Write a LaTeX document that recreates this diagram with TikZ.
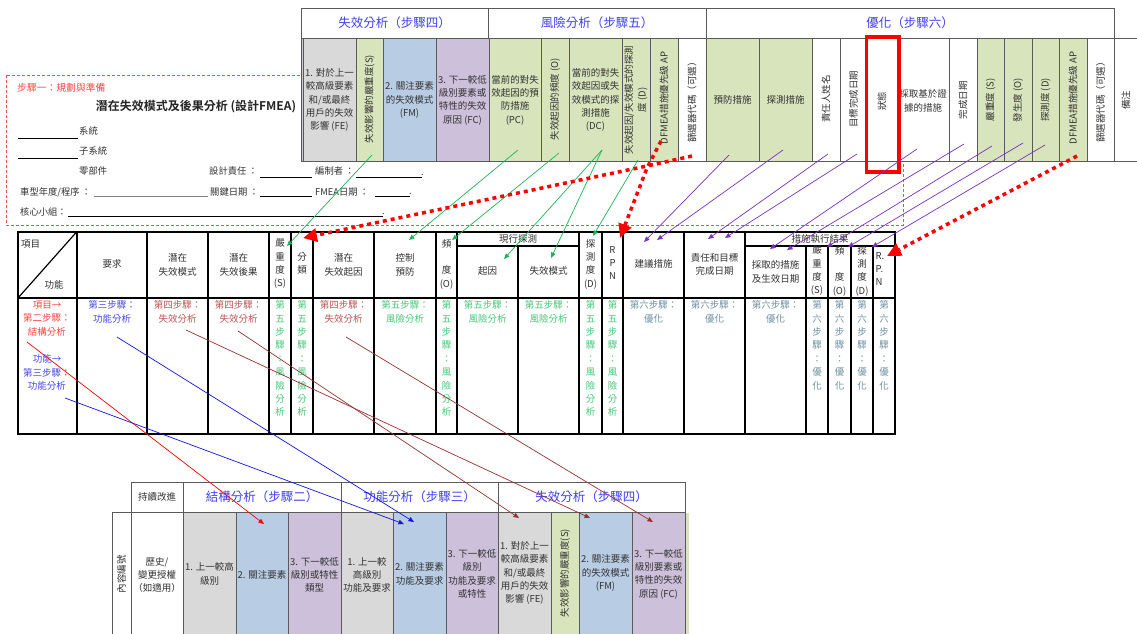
\documentclass[tikz,border=0pt]{standalone}
\usepackage{fontspec}
\setmainfont{Noto Sans CJK TC}[BoldFont={Noto Sans CJK TC Bold}]
\usetikzlibrary{arrows.meta}
\definecolor{hblue}{RGB}{64,64,240}
\definecolor{txt}{RGB}{50,50,50}
\definecolor{tgrid}{RGB}{90,90,90}
\definecolor{cgray}{RGB}{217,217,217}
\definecolor{cblue}{RGB}{184,204,228}
\definecolor{cpurple}{RGB}{204,192,218}
\definecolor{cgreen}{RGB}{216,228,188}
\definecolor{tgreen}{RGB}{70,200,120}
\definecolor{tbrown}{RGB}{185,85,85}
\definecolor{tteal}{RGB}{110,145,160}
\definecolor{tblue}{RGB}{70,70,235}
\definecolor{tred}{RGB}{255,70,70}
\definecolor{lgreen}{RGB}{30,180,90}
\definecolor{lpurple}{RGB}{120,50,190}
\definecolor{lbrown}{RGB}{150,50,50}
\definecolor{lblue}{RGB}{20,20,220}
\definecolor{stepred}{RGB}{240,80,80}
\begin{document}
\begin{tikzpicture}[x=1pt,y=-1pt,
  every node/.style={inner sep=0pt, text=txt},
  b9/.style={font=\fontsize{9.5}{13.3}\selectfont, align=center},
  vs/.style={font=\fontsize{9.5}{13.4}\selectfont, align=center, anchor=north},
  hd/.style={font=\fontsize{12.5}{14}\selectfont, text=hblue},
  rot/.style={b9, rotate=90},
  lb/.style={font=\fontsize{9.3}{11}\selectfont, anchor=west},
  tl/.style={draw=tgrid, line width=0.8pt},
  ml/.style={draw=black, line width=1.2pt},
  ul/.style={draw=black, line width=0.8pt},
  conn/.style={line width=0.7pt, -{Triangle[length=5.5pt,width=4.5pt]}},
  rdot/.style={draw=red, line width=3.5pt, dash pattern=on 4pt off 4pt, -{Triangle[length=14pt,width=13pt]}}
]
\useasboundingbox (0,0) rectangle (1137,634);
\fill[white] (0,0) rectangle (1137,634);

% ---------- step 1 dashed box ----------
\draw[stepred, line width=0.8pt, dash pattern=on 3pt off 2pt] (6,75) rectangle (903,225);
\node[lb, text=tred, font=\fontsize{9.8}{11}\selectfont] (s1) at (17,88) {步驟一：規劃與準備};
\node[font=\fontsize{12}{13}\bfseries, text=black!85] (title) at (196,107) {潛在失效模式及後果分析 (設計FMEA)};
\node[lb] (sys) at (79,131) {系統};
\coordinate (sysa) at (18,138); \coordinate (sysb) at (78,138);
\draw[ul] (sysa) -- (sysb);
\node[lb] (subsys) at (79,151) {子系統};
\coordinate (suba) at (18,158); \coordinate (subb) at (78,158);
\draw[ul] (suba) -- (subb);
\node[lb] (part) at (79,171) {零部件};
\node[lb] (resp) at (209,171) {設計責任 ：};
\coordinate (respa) at (260,177); \coordinate (respb) at (312,177);
\draw[ul] (respa) -- (respb);
\node[lb] (prep) at (315,171) {編制者 ：};
\coordinate (prepa) at (356,177); \coordinate (prepb) at (422,177);
\draw[ul] (prepa) -- (prepb);
\node[lb] (prepdot) at (421,175) {.};
\node[lb] (model) at (20,192) {車型年度/程序 ：};
\coordinate (modela) at (94,196); \coordinate (modelb) at (208,196);
\draw[draw=gray, line width=0.8pt] (modela) -- (modelb);
\node[lb] (key) at (210,192) {關鍵日期 ：};
\coordinate (keya) at (260,196); \coordinate (keyb) at (312,196);
\draw[ul] (keya) -- (keyb);
\node[lb] (fdate) at (315,192) {FMEA日期 ：};
\coordinate (fdatea) at (375,196); \coordinate (fdateb) at (410,196);
\draw[ul] (fdatea) -- (fdateb);
\node[lb] (fdot) at (409,194) {.};
\node[lb] (team) at (20,212) {核心小組：};
\coordinate (teama) at (68,216); \coordinate (teamb) at (383,216);
\draw[ul] (teama) -- (teamb);
\node[lb] (tdot) at (382,214) {.};

% ---------- top table ----------
\filldraw[fill=white, tl] (301,8) rectangle (488,38);
\filldraw[fill=white, tl] (488,8) rectangle (706,38);
\filldraw[fill=white, tl] (706,8) rectangle (1114,38);
\node[hd] (h4) at (394.5,23) {失效分析（步驟四）};
\node[hd] (h5) at (597,23) {風險分析（步驟五）};
\node[hd] (h6) at (910,23) {優化（步驟六）};
\foreach \a/\b/\c in {301/303/cpurple,303/356/cgray,356/383/cgreen,383/436/cblue,436/489/cpurple,489/541/cgreen,541/569/cgreen,569/622/cgreen,622/650/cgreen,650/678/cgreen,678/706/white,706/759/cgreen,759/812/cgreen,812/840/white,840/867/white,867/897/white,897/949/white,949/977/white,977/1004/cgreen,1004/1032/cgreen,1032/1059/cgreen,1059/1087/cgreen,1087/1114/white,1114/1139/white}
  {\filldraw[fill=\c, tl] (\a,38) rectangle (\b,161);}
\node[b9] (tfe) at (329.5,100) {1. 對於上一\\較高級要素\\和/或最終\\用戶的失效\\影響 (FE)};
\node[rot] (ts4) at (369.5,99) {失效影響的嚴重度(S)};
\node[b9] (tfm) at (409.5,100) {2. 關注要素\\的失效模式\\(FM)};
\node[b9] (tfc) at (462.5,100) {3. 下一較低\\級別要素或\\特性的失效\\原因 (FC)};
\node[b9] (tpc) at (515,100) {當前的對失\\效起因的預\\防措施\\(PC)};
\node[rot] (to5) at (555,99) {失效起因的頻度 (O)};
\node[b9] (tdc) at (595.5,100) {當前的對失\\效起因或失\\效模式的探\\測措施\\(DC)};
\node[rot] (td5) at (636,100) {失效起因/失效模式的探測\\度 (D)};
\node[rot] (tap5) at (664,98) {DFMEA措施優先級 AP};
\node[rot] (tfl5) at (692,100) {篩選器代碼（可選）};
\node[b9] (tpa) at (732.5,100) {預防措施};
\node[b9] (tda) at (785.5,100) {探測措施};
\node[rot] (trn) at (826,99) {責任人姓名};
\node[rot] (ttd) at (853.5,99) {目標完成日期};
\node[rot] (tst) at (882,101) {狀態};
\node[b9] (tae) at (923,101) {採取基於證\\據的措施};
\node[rot] (tcd) at (963,100) {完成日期};
\node[rot] (ts6) at (990.5,100) {嚴重度 (S)};
\node[rot] (to6) at (1018,100) {發生度 (O)};
\node[rot] (td6) at (1045.5,100) {探測度 (D)};
\node[rot] (tap6) at (1073,98) {DFMEA措施優先級 AP};
\node[rot] (tfl6) at (1100.5,100) {篩選器代碼（可選）};
\node[rot] (trm) at (1126,100) {備注};
\draw[red, line width=3.2pt] (866.5,37) rectangle (899,172);

% ---------- middle table ----------
\fill[white] (18,231.5) rectangle (895,434);
\foreach \x in {77,147,208,269,291,313,374,436,457,579,602,623,684,745}
  {\draw[ml] (\x,231.5) -- (\x,434);}
\foreach \x in {518,806,828,851,873}
  {\draw[ml] (\x,246) -- (\x,434);}
\draw[ml] (18,298) -- (895,298);
\draw[ml] (457,246) -- (579,246);
\draw[ml] (745,246) -- (895,246);
\draw[ml] (18,298) -- (77,231.5);
\draw[draw=black, line width=2pt] (18,231.5) rectangle (895,434);

\node[b9, anchor=west] (mh1) at (21,244) {項目};
\node[b9] (mh1b) at (54,285) {功能};
\node[b9] (mh2) at (112,264) {要求};
\node[b9] (mh3) at (177.5,265) {潛在\\失效模式};
\node[b9] (mh4) at (238.5,265) {潛在\\失效後果};
\node[vs] (mh5) at (280,239) {嚴\\重\\度\\(S)};
\node[vs] (mh6) at (302,252.5) {分\\類};
\node[b9] (mh7) at (343.5,265) {潛在\\失效起因};
\node[b9] (mh8) at (405,265) {控制\\預防};
\node[vs] (mh9) at (446.5,239) {頻\\\mbox{}\\度\\(O)};
\node[b9] (mh10) at (518,239) {現行探測};
\node[b9] (mh11) at (487.5,271) {起因};
\node[b9] (mh12) at (548.5,271) {失效模式};
\node[vs] (mh13) at (590.5,239) {探\\測\\度\\(D)};
\node[vs] (mh14) at (612.5,246) {R\\P\\N};
\node[b9] (mh15) at (653.5,264) {建議措施};
\node[b9] (mh16) at (714.5,264.5) {責任和目標\\完成日期};
\node[b9] (mh17) at (820,239) {措施執行結果};
\node[b9] (mh18) at (775.5,272) {採取的措施\\及生效日期};
\node[vs] (mh19) at (817,246) {嚴\\重\\度\\(S)};
\node[vs] (mh20) at (839.5,246) {頻\\\mbox{}\\度\\(O)};
\node[vs] (mh21) at (862,246) {探\\測\\度\\(D)};
\node[vs, align=left] (mh22) at (880,252) {R.\\P.\\N};

\node[vs, text=tred] (mb1) at (47,300.5) {項目→\\第二步驟：\\結構分析};
\node[vs, text=tblue] (mb1b) at (47,354.5) {功能→\\第三步驟：\\功能分析};
\node[vs, text=tblue] (mb2) at (112,300.5) {第三步驟：\\功能分析};
\node[vs, text=tbrown] (mb3) at (177.5,300.5) {第四步驟：\\失效分析};
\node[vs, text=tbrown] (mb4) at (238.5,300.5) {第四步驟：\\失效分析};
\node[vs, text=tgreen] (mb5) at (280,300.5) {第\\五\\步\\驟\\：\\風\\險\\分\\析};
\node[vs, text=tgreen] (mb6) at (302,300.5) {第\\五\\步\\驟\\：\\風\\險\\分\\析};
\node[vs, text=tbrown] (mb7) at (343.5,300.5) {第四步驟：\\失效分析};
\node[vs, text=tgreen] (mb8) at (405,300.5) {第五步驟：\\風險分析};
\node[vs, text=tgreen] (mb9) at (446.5,300.5) {第\\五\\步\\驟\\：\\風\\險\\分\\析};
\node[vs, text=tgreen] (mb10) at (487.5,300.5) {第五步驟：\\風險分析};
\node[vs, text=tgreen] (mb11) at (548.5,300.5) {第五步驟：\\風險分析};
\node[vs, text=tgreen] (mb12) at (590.5,300.5) {第\\五\\步\\驟\\：\\風\\險\\分\\析};
\node[vs, text=tgreen] (mb13) at (612.5,300.5) {第\\五\\步\\驟\\：\\風\\險\\分\\析};
\node[vs, text=tteal] (mb14) at (653.5,300.5) {第六步驟：\\優化};
\node[vs, text=tteal] (mb15) at (714.5,300.5) {第六步驟：\\優化};
\node[vs, text=tteal] (mb16) at (775.5,300.5) {第六步驟：\\優化};
\node[vs, text=tteal] (mb17) at (817,300.5) {第\\六\\步\\驟\\：\\優\\化};
\node[vs, text=tteal] (mb18) at (839.5,300.5) {第\\六\\步\\驟\\：\\優\\化};
\node[vs, text=tteal] (mb19) at (862,300.5) {第\\六\\步\\驟\\：\\優\\化};
\node[vs, text=tteal] (mb20) at (884,300.5) {第\\六\\步\\驟\\：\\優\\化};

% ---------- bottom table ----------
\foreach \a/\b/\c in {112/131/white,131/183/white,183/236/cgray,236/288/cblue,288/341/cpurple,341/393/cgray,393/446/cblue,446/498/cpurple,498/551/cgray,551/579/cgreen,579/632/cblue,632/685/cpurple}
  {\filldraw[fill=\c, tl] (\a,512) rectangle (\b,640);}
\fill[cgreen] (686,512.5) rectangle (689,640);
\filldraw[fill=white, tl] (131,482) rectangle (183,512);
\filldraw[fill=white, tl] (183,482) rectangle (341,512);
\filldraw[fill=white, tl] (341,482) rectangle (498,512);
\filldraw[fill=white, tl] (498,482) rectangle (685,512);
\node[b9] (bh1) at (157,497) {持續改進};
\node[hd] (bh2) at (262,497) {結構分析（步驟二）};
\node[hd] (bh3) at (419.5,497) {功能分析（步驟三）};
\node[hd] (bh4) at (591.5,497) {失效分析（步驟四）};
\node[rot] (bb0) at (121.5,574) {內容編號};
\node[b9] (bb1) at (157,575) {歷史/\\變更授權\\（如適用）};
\node[b9] (bb2) at (209.5,574) {1. 上一較高\\級別};
\node[b9] (bb3) at (262,575) {2. 關注要素};
\node[b9] (bb4) at (314.5,575) {3. 下一較低\\級別或特性\\類型};
\node[b9] (bb5) at (367,575) {1. 上一較\\高級別\\功能及要求};
\node[b9] (bb6) at (419.5,574) {2. 關注要素\\功能及要求};
\node[b9] (bb7) at (472,574) {3. 下一較低\\級別\\功能及要求\\或特性};
\node[b9] (bb8) at (524.5,573) {1. 對於上一\\較高級要素\\和/或最終\\用戶的失效\\影響 (FE)};
\node[rot] (bb9) at (565,573) {失效影響的嚴重度(S)};
\node[b9] (bb10) at (605.5,573) {2. 關注要素\\的失效模式\\(FM)};
\node[b9] (bb11) at (658.5,574) {3. 下一較低\\級別要素或\\特性的失效\\原因 (FC)};

% ---------- connectors: middle -> bottom ----------
\coordinate (cr1) at (27,342);   \coordinate (cr1e) at (264,524);
\coordinate (cb1) at (65,398);   \coordinate (cb1e) at (404,524);
\coordinate (cb2) at (117,337);  \coordinate (cb2e) at (414,522);
\coordinate (cw1) at (186,330);  \coordinate (cw1e) at (590,518);
\coordinate (cw2) at (238,331);  \coordinate (cw2e) at (519,518);
\coordinate (cw3) at (346,337);  \coordinate (cw3e) at (653,522);
\draw[conn, red] (cr1) -- (cr1e);
\draw[conn, lblue] (cb1) -- (cb1e);
\draw[conn, lblue] (cb2) -- (cb2e);
\draw[conn, lbrown] (cw1) -- (cw1e);
\draw[conn, lbrown] (cw2) -- (cw2e);
\draw[conn, lbrown] (cw3) -- (cw3e);

% ---------- connectors: top -> middle (green) ----------
\coordinate (g1) at (372,155); \coordinate (g1e) at (287,246);
\coordinate (g2) at (518,150); \coordinate (g2e) at (409,240);
\coordinate (g3) at (559,153); \coordinate (g3e) at (452,240);
\coordinate (g4) at (602,150); \coordinate (g4e) at (504,259);
\coordinate (g5e) at (551,258);
\coordinate (g6) at (638,160); \coordinate (g6e) at (593,236);
\draw[conn, lgreen] (g1) -- (g1e);
\draw[conn, lgreen] (g2) -- (g2e);
\draw[conn, lgreen] (g3) -- (g3e);
\draw[conn, lgreen] (g4) -- (g4e);
\draw[conn, lgreen] (g4) -- (g5e);
\draw[conn, lgreen] (g6) -- (g6e);

% ---------- connectors: top -> middle (purple) ----------
\coordinate (p1) at (729,155);  \coordinate (p1e) at (644,242);
\coordinate (p2) at (783,150);  \coordinate (p2e) at (657,240);
\coordinate (p3) at (828,154);  \coordinate (p3e) at (708,239);
\coordinate (p4) at (857,154);  \coordinate (p4e) at (725,238);
\coordinate (p5) at (917,149);  \coordinate (p5e) at (770,249);
\coordinate (p6) at (964,144);  \coordinate (p6e) at (787,250);
\coordinate (p7) at (992,146);  \coordinate (p7e) at (827,247);
\coordinate (p8) at (1023,143); \coordinate (p8e) at (848,247);
\coordinate (p9) at (1045,145); \coordinate (p9e) at (872,247);
\foreach \i in {1,...,9}{\draw[conn, lpurple] (p\i) -- (p\i e);}

% ---------- red dotted arrows ----------
\coordinate (d1) at (692,156); \coordinate (d1m) at (647,166); \coordinate (d1e) at (303,238);
\coordinate (d2) at (661,141); \coordinate (d2m) at (647,168); \coordinate (d2e) at (620,238);
\coordinate (d3) at (1077,156); \coordinate (d3e) at (887,256);
\draw[rdot] (d1) -- (d1m) -- (d1e);
\draw[rdot] (d2) -- (d2m) -- (d2e);
\draw[rdot] (d3) -- (d3e);
\end{tikzpicture}
\end{document}
